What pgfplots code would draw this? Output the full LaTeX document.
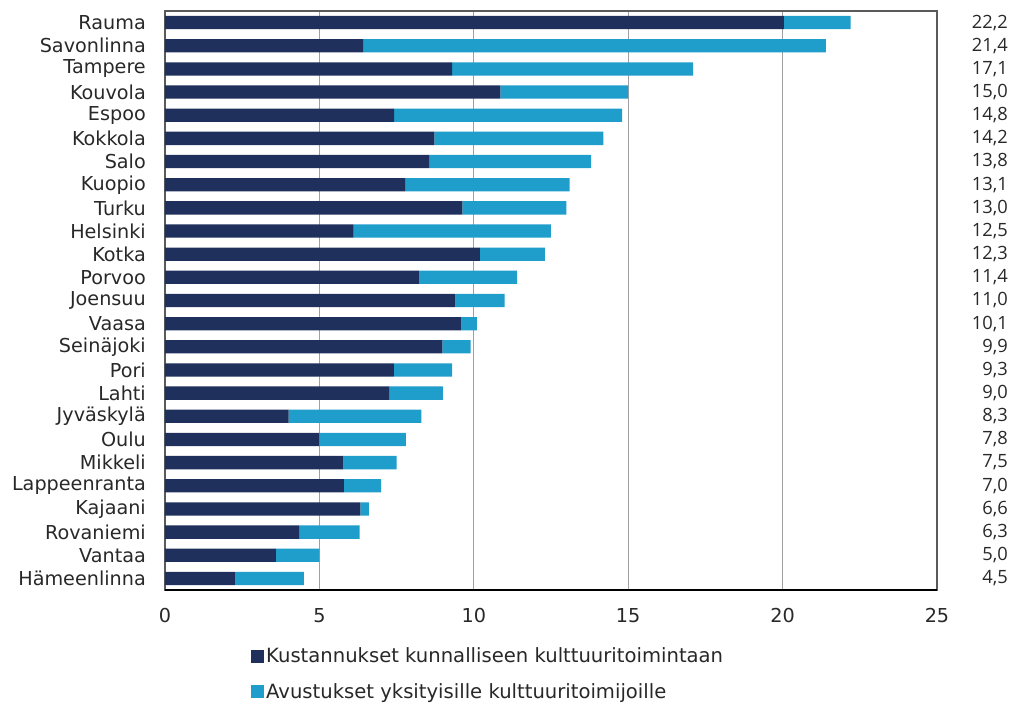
\documentclass[border=0pt]{standalone}
\usepackage{pgfplots}
\usepackage{pgfplotstable}
\pgfplotsset{compat=1.18}
\usepackage{fontspec}
\setmainfont{DejaVu Sans}
\newfontfamily\valfont{Open Sans}
\definecolor{cdark}{RGB}{31,48,92}
\definecolor{clight}{RGB}{31,158,203}
\definecolor{cgrid}{RGB}{160,160,160}
\definecolor{caxis}{RGB}{90,90,90}
\definecolor{ctext}{RGB}{40,40,40}
\pgfplotstableread[col sep=semicolon]{
name;dark;light;total
Rauma;20.04;2.16;22,2
Savonlinna;6.42;14.98;21,4
Tampere;9.30;7.80;17,1
Kouvola;10.86;4.14;15,0
Espoo;7.42;7.38;14,8
Kokkola;8.72;5.48;14,2
Salo;8.55;5.25;13,8
Kuopio;7.78;5.32;13,1
Turku;9.63;3.37;13,0
Helsinki;6.11;6.39;12,5
Kotka;10.20;2.10;12,3
Porvoo;8.22;3.18;11,4
Joensuu;9.40;1.60;11,0
Vaasa;9.60;0.50;10,1
Seinäjoki;8.98;0.92;9,9
Pori;7.41;1.89;9,3
Lahti;7.26;1.74;9,0
Jyväskylä;4.00;4.30;8,3
Oulu;4.99;2.81;7,8
Mikkeli;5.78;1.72;7,5
Lappeenranta;5.79;1.21;7,0
Kajaani;6.33;0.27;6,6
Rovaniemi;4.34;1.96;6,3
Vantaa;3.59;1.41;5,0
Hämeenlinna;2.26;2.24;4,5
}\data
\begin{document}
\begin{tikzpicture}[x=1pt,y=1pt]
\path (-165,-114) rectangle (848,590);
\begin{axis}[
  at={(0,0)}, anchor=south west,
  scale only axis, width=772pt, height=579pt,
  xbar stacked, bar width=13.3pt,
  xmin=0, xmax=25, ymin=-0.5, ymax=24.5,
  y dir=reverse,
  xtick={0,5,...,25},
  ytick={0,...,24},
  yticklabels from table={\data}{name},
  major tick length=0pt,
  xmajorgrids, grid style={cgrid, line width=1.2pt},
  axis line style={caxis, line width=1.2pt},
  /pgf/number format/assume math mode=true,
  tick label style={font=\fontsize{19.2}{22}\selectfont, text=ctext},
  yticklabel style={anchor=east, inner sep=0pt, xshift=-19pt},
  xticklabel style={yshift=-15pt},
  legend style={draw=none, at={(0.1075,-0.093)}, anchor=north west,
    font=\fontsize{19.6}{22}\selectfont, text=ctext, legend cell align=left,
    row sep=15pt, nodes={inner sep=2pt}},
  legend image code/.code={\fill[#1] (0pt,-6.5pt) rectangle (13pt,6.5pt);},
  legend columns=1,
]
\addplot[fill=cdark, draw=none] table[x=dark, y expr=\coordindex]{\data};
\addplot[fill=clight, draw=none] table[x=light, y expr=\coordindex]{\data};
\legend{Kustannukset kunnalliseen kulttuuritoimintaan, Avustukset yksityisille kulttuuritoimijoille}
\draw[black, line width=1.5pt] (rel axis cs:0,0) -- (rel axis cs:1,0);
\end{axis}
\begin{axis}[
  at={(0,0)}, anchor=south west,
  scale only axis, width=772pt, height=579pt,
  xmin=0, xmax=25, ymin=-0.5, ymax=24.5,
  y dir=reverse,
  hide x axis, axis y line*=right, y axis line style={draw=none},
  major tick length=0pt,
  ytick={0,...,24},
  yticklabels from table={\data}{total},
  yticklabel style={anchor=east, inner sep=0pt, xshift=71pt, text=ctext, font=\valfont\fontsize{18.3}{20}\selectfont},
]
\end{axis}
\end{tikzpicture}
\end{document}
